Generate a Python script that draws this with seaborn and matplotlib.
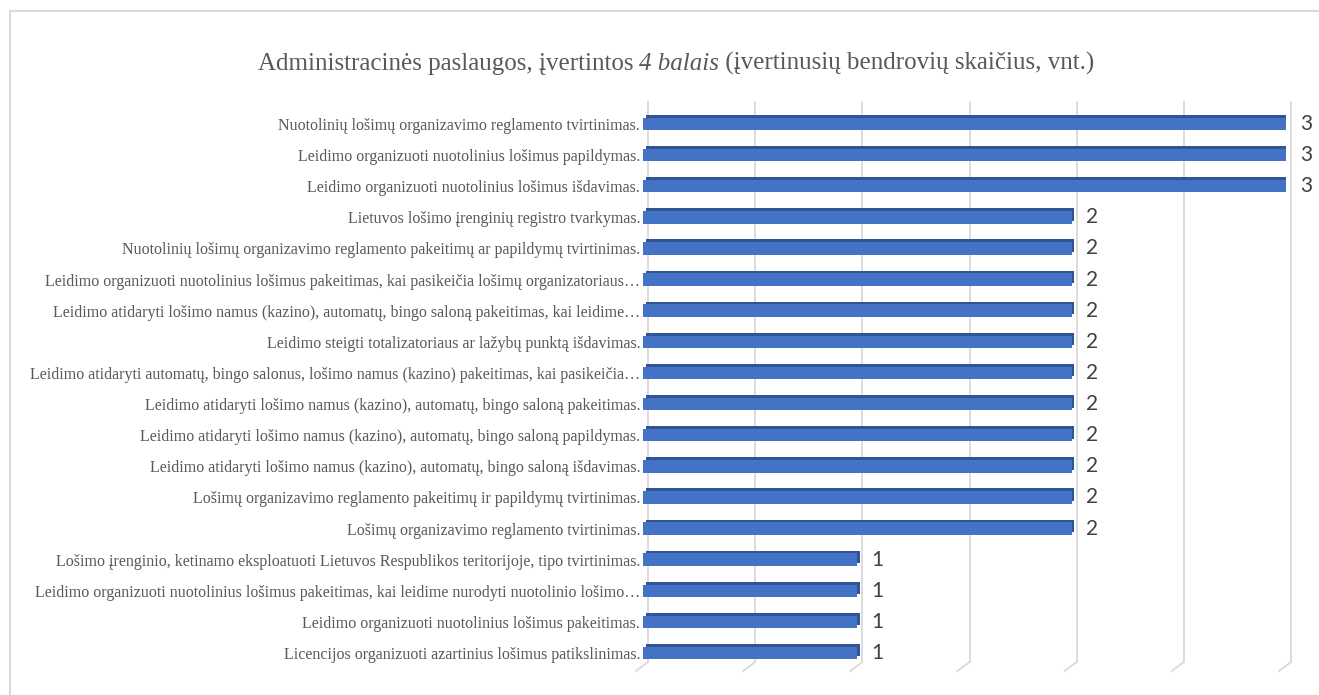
import matplotlib
matplotlib.use("Agg")
import matplotlib.pyplot as plt
import matplotlib.transforms as mtransforms
import matplotlib.patheffects as pe
from matplotlib.lines import Line2D
import seaborn as sns
import pandas as pd

categories = [
    "Nuotolinių lošimų organizavimo reglamento tvirtinimas.",
    "Leidimo organizuoti nuotolinius lošimus papildymas.",
    "Leidimo organizuoti nuotolinius lošimus išdavimas.",
    "Lietuvos lošimo įrenginių registro tvarkymas.",
    "Nuotolinių lošimų organizavimo reglamento pakeitimų ar papildymų tvirtinimas.",
    "Leidimo organizuoti nuotolinius lošimus pakeitimas, kai pasikeičia lošimų organizatoriaus…",
    "Leidimo atidaryti lošimo namus (kazino), automatų, bingo saloną pakeitimas, kai leidime…",
    "Leidimo steigti totalizatoriaus ar lažybų punktą išdavimas.",
    "Leidimo atidaryti automatų, bingo salonus, lošimo namus (kazino) pakeitimas, kai pasikeičia…",
    "Leidimo atidaryti lošimo namus (kazino), automatų, bingo saloną pakeitimas.",
    "Leidimo atidaryti lošimo namus (kazino), automatų, bingo saloną papildymas.",
    "Leidimo atidaryti lošimo namus (kazino), automatų, bingo saloną išdavimas.",
    "Lošimų organizavimo reglamento pakeitimų ir papildymų tvirtinimas.",
    "Lošimų organizavimo reglamento tvirtinimas.",
    "Lošimo įrenginio, ketinamo eksploatuoti Lietuvos Respublikos teritorijoje, tipo tvirtinimas.",
    "Leidimo organizuoti nuotolinius lošimus pakeitimas, kai leidime nurodyti nuotolinio lošimo…",
    "Leidimo organizuoti nuotolinius lošimus pakeitimas.",
    "Licencijos organizuoti azartinius lošimus patikslinimas.",
]
values = [3, 3, 3, 2, 2, 2, 2, 2, 2, 2, 2, 2, 2, 2, 1, 1, 1, 1]
grid_ticks = [0, 0.5, 1.0, 1.5, 2.0, 2.5, 3.0]

title_parts = [
    ("Administracinės paslaugos, įvertintos ", "normal"),
    ("4 balais", "italic"),
    (" (įvertinusių bendrovių skaičius, vnt.)", "normal"),
]

W, H = 1319, 695
fig = plt.figure(figsize=(W / 100, H / 100), dpi=100)
fig.patch.set_facecolor("white")

ax_left, ax_right = 643, 1286
ax_top, ax_bottom = 102, 671
ax = fig.add_axes([ax_left / W, 1 - ax_bottom / H,
                   (ax_right - ax_left) / W, (ax_bottom - ax_top) / H])

df = pd.DataFrame({"cat": categories, "val": values})

sns.barplot(data=df, x="val", y="cat", orient="h", color="#4472C4",
            width=0.40, saturation=1, ax=ax, zorder=3)

for bar in ax.patches:
    bar.set_edgecolor("none")
    bar.set_path_effects([
        pe.SimplePatchShadow(offset=(2.0, 2.0), shadow_rgbFace="#2F5597", alpha=1.0),
        pe.Normal(),
    ])

ax.set_xlim(0, 3.0)
row_px = (653 - 124) / 17
ax.set_ylim(17 + (ax_bottom - 653) / row_px, -(124 - ax_top) / row_px)

# gridlines (behind bars, shifted for 3D depth)
grid_color = "#D9D9D9"
blend = mtransforms.blended_transform_factory(ax.transData, ax.transAxes)
shift = mtransforms.offset_copy(blend, fig=fig, x=5, y=0, units="dots")
shift_low = mtransforms.offset_copy(blend, fig=fig, x=-7, y=0, units="dots")
y_knee = (ax_bottom - 662) / (ax_bottom - ax_top)
for g in grid_ticks:
    ax.add_line(Line2D([g, g], [1.0, y_knee], transform=shift, color=grid_color,
                       lw=1.3, clip_on=False, zorder=0))
    p0 = shift.transform((g, y_knee))
    p1 = shift_low.transform((g, 0.0))
    fig.add_artist(Line2D([p0[0] / W, p1[0] / W], [p0[1] / H, p1[1] / H],
                          transform=fig.transFigure, color=grid_color, lw=1.3, zorder=0))

for i, v in enumerate(values):
    ax.annotate(str(v), xy=(v, i), xytext=(10, 0), textcoords="offset points",
                va="center", ha="left", fontsize=15, family="Lato",
                color="#404040", annotation_clip=False)

ax.set_xlabel("")
ax.set_ylabel("")
ax.set_xticks([])
ax.tick_params(axis="y", length=0, pad=2)
for lab in ax.get_yticklabels():
    lab.set_family("Liberation Serif")
    lab.set_fontsize(11.5)
    lab.set_color("#595959")
for s in ax.spines.values():
    s.set_visible(False)
ax.set_facecolor("none")

# title with italic part
renderer = fig.canvas.get_renderer()
texts = []
for txt, style in title_parts:
    t = fig.text(0, 0, txt, fontsize=18, family="Liberation Serif", style=style,
                 color="#595959", ha="left", va="baseline")
    texts.append(t)
widths = [t.get_window_extent(renderer).width for t in texts]
total = sum(widths)
cx = 676
x = cx - total / 2
base_y = 70
for t, w in zip(texts, widths):
    t.set_position((x / W, 1 - base_y / H))
    x += w

# outer border (left and top)
bc = "#D9D9D9"
fig.add_artist(Line2D([9.5 / W, 9.5 / W], [0, 1 - 11 / H], transform=fig.transFigure, color=bc, lw=1.5))
fig.add_artist(Line2D([9.5 / W, 1], [1 - 11 / H, 1 - 11 / H], transform=fig.transFigure, color=bc, lw=1.5))

fig.savefig("out.png", dpi=100)
